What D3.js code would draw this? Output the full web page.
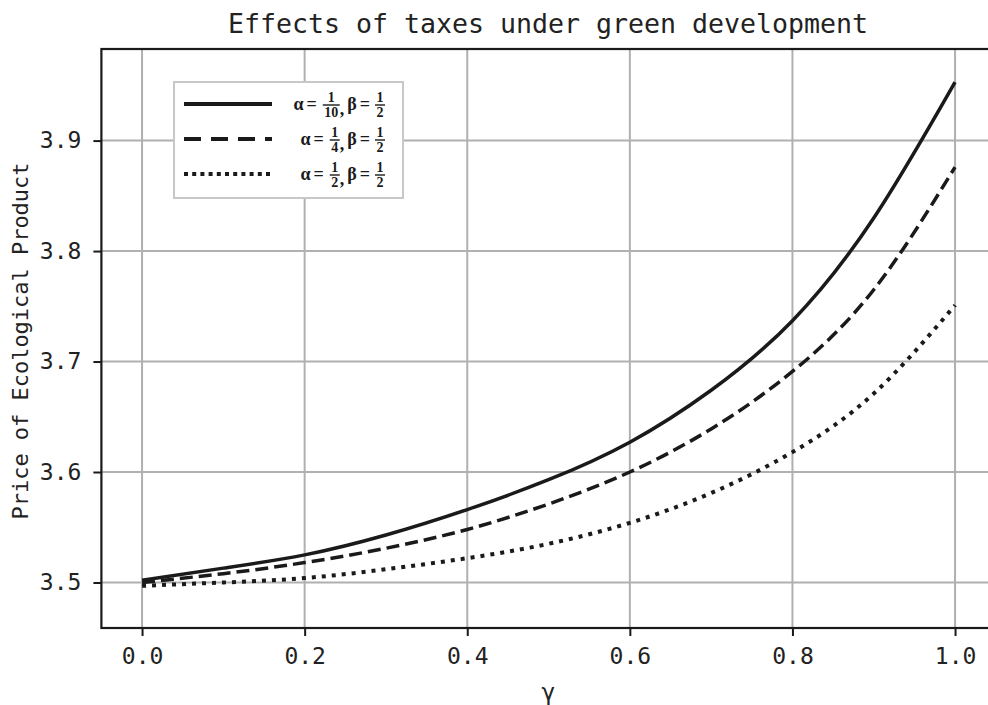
<!DOCTYPE html>
<html>
<head>
<meta charset="utf-8">
<script src="https://cdn.jsdelivr.net/npm/d3@7"></script>
<style>
	body { margin: 0; background: #fff; }
	svg { display: block; }
</style>
</head>
<body>
<div id="chart"></div>
<script>

// values
var gammaValues = [0, 0.1, 0.2, 0.3, 0.4, 0.5, 0.6, 0.7, 0.8, 0.9, 1.0];

var priceAlphaTenth   = [3.502, 3.513, 3.525, 3.543, 3.566, 3.593, 3.627, 3.674, 3.737, 3.830, 3.953];
var priceAlphaQuarter = [3.500, 3.508, 3.518, 3.531, 3.548, 3.571, 3.600, 3.639, 3.691, 3.765, 3.876];
var priceAlphaHalf    = [3.497, 3.500, 3.504, 3.512, 3.522, 3.535, 3.554, 3.581, 3.618, 3.671, 3.751];

var xTicks = [0, 0.2, 0.4, 0.6, 0.8, 1.0];
var yTicks = [3.5, 3.6, 3.7, 3.8, 3.9];

// legend: alpha fraction [num, den], beta fraction [num, den]
var legendAlpha = [["1", "10"], ["1", "4"], ["1", "2"]];
var legendBeta  = [["1", "2"], ["1", "2"], ["1", "2"]];

var titleText  = "Effects of taxes under green development";
var xLabelText = "\u03b3";
var yLabelText = "Price of Ecological Product";

var width  = 988,
	height = 705;

var margin = { left: 101.4, top: 49, bottom: 628 };
var plotW  = 813 * 1.1;

var x = d3.scaleLinear()
	.domain([-0.05, 1.05])
	.range([margin.left, margin.left + plotW]);

var y = d3.scaleLinear()
	.domain([3.4588, 3.9829])
	.range([margin.bottom, margin.top]);

var series = [
	{ values: priceAlphaTenth,   dash: null,    legendDash: null },
	{ values: priceAlphaQuarter, dash: "13,6",  legendDash: "17,10" },
	{ values: priceAlphaHalf,    dash: "4,6",   legendDash: "4,4.2" }
];

var monoFont = "'DejaVu Sans Mono', 'Liberation Mono', monospace";
var ink = "#1a1a1a";

var svg = d3.select("#chart")
	.append("svg")
	.attr("width", width)
	.attr("height", height)
	.style("background", "#fff");

// grid
var grid = svg.append("g").attr("class", "grid");

grid.selectAll("line.gx")
	.data(xTicks)
	.enter().append("line")
	.attr("class", "gx")
	.attr("x1", function(d) { return x(d); })
	.attr("x2", function(d) { return x(d); })
	.attr("y1", margin.top)
	.attr("y2", margin.bottom)
	.attr("stroke", "#b0b0b0")
	.attr("stroke-width", 2);

grid.selectAll("line.gy")
	.data(yTicks)
	.enter().append("line")
	.attr("class", "gy")
	.attr("x1", margin.left)
	.attr("x2", margin.left + plotW)
	.attr("y1", function(d) { return y(d); })
	.attr("y2", function(d) { return y(d); })
	.attr("stroke", "#b0b0b0")
	.attr("stroke-width", 2);

// curves
var line = d3.line()
	.x(function(d, i) { return x(gammaValues[i]); })
	.y(function(d) { return y(d); })
	.curve(d3.curveNatural);

svg.append("g")
	.selectAll("path")
	.data(series)
	.enter().append("path")
	.attr("d", function(s) { return line(s.values); })
	.attr("fill", "none")
	.attr("stroke", ink)
	.attr("stroke-width", function(s, i) { return i == 2 ? 4 : 3.5; })
	.attr("stroke-dasharray", function(s) { return s.dash; });

// axes
var xAxis = svg.append("g")
	.attr("transform", "translate(0," + margin.bottom + ")")
	.call(d3.axisBottom(x).tickValues(xTicks).tickSize(8).tickPadding(12)
		.tickFormat(d3.format(".1f")));

var yAxis = svg.append("g")
	.attr("transform", "translate(" + margin.left + ",0)")
	.call(d3.axisLeft(y).tickValues(yTicks).tickSize(8).tickPadding(12)
		.tickFormat(d3.format(".1f")));

[xAxis, yAxis].forEach(function(a) {
	a.select(".domain").remove();
	a.selectAll(".tick line").attr("stroke", ink).attr("stroke-width", 2);
	a.selectAll(".tick text")
		.attr("fill", "#222")
		.style("font-family", monoFont)
		.style("font-size", "23px");
});

// frame
svg.append("rect")
	.attr("x", margin.left)
	.attr("y", margin.top)
	.attr("width", plotW)
	.attr("height", margin.bottom - margin.top)
	.attr("fill", "none")
	.attr("stroke", ink)
	.attr("stroke-width", 2.2);

// title and labels
svg.append("text")
	.attr("x", 548)
	.attr("y", 33)
	.attr("text-anchor", "middle")
	.attr("textLength", 640)
	.attr("lengthAdjust", "spacingAndGlyphs")
	.style("font-family", monoFont)
	.style("font-size", "27px")
	.attr("fill", "#222")
	.text(titleText);

svg.append("text")
	.attr("x", x(0.5))
	.attr("y", 700)
	.attr("text-anchor", "middle")
	.style("font-family", monoFont)
	.style("font-size", "23px")
	.attr("fill", "#222")
	.text(xLabelText);

svg.append("text")
	.attr("transform", "translate(28,341) rotate(-90)")
	.attr("text-anchor", "middle")
	.attr("textLength", 357)
	.attr("lengthAdjust", "spacingAndGlyphs")
	.style("font-family", monoFont)
	.style("font-size", "21px")
	.attr("fill", "#222")
	.text(yLabelText);

// legend
var legend = svg.append("g").attr("class", "legend");

legend.append("rect")
	.attr("x", 174)
	.attr("y", 82)
	.attr("width", 229)
	.attr("height", 116)
	.attr("fill", "#fff")
	.attr("stroke", "#c8c8c8")
	.attr("stroke-width", 2);

var rowY = [104, 139, 174];
var mathFont = "'Liberation Serif', 'DejaVu Serif', serif";

series.forEach(function(s, i) {

	legend.append("line")
		.attr("x1", 184)
		.attr("x2", 272)
		.attr("y1", rowY[i])
		.attr("y2", rowY[i])
		.attr("stroke", ink)
		.attr("stroke-width", 4)
		.attr("stroke-dasharray", s.legendDash);

	var g = legend.append("g");
	var cx = 0;

	function piece(txt, size, ty) {
		return g.append("text")
			.attr("x", cx)
			.attr("y", ty)
			.style("font-family", mathFont)
			.style("font-size", size + "px")
			.style("font-weight", "bold")
			.attr("fill", ink)
			.text(txt);
	}

	function word(txt, gap) {
		var t = piece(txt, 18, 6);
		cx += t.node().getComputedTextLength() + gap;
	}

	function frac(f, gap) {
		var num = piece(f[0], 14, -2.5).attr("text-anchor", "middle");
		var den = piece(f[1], 14, 13).attr("text-anchor", "middle");
		var w = Math.max(num.node().getComputedTextLength(), den.node().getComputedTextLength()) + 3;
		num.attr("x", cx + w / 2);
		den.attr("x", cx + w / 2);
		g.append("line")
			.attr("x1", cx)
			.attr("x2", cx + w)
			.attr("y1", 1)
			.attr("y2", 1)
			.attr("stroke", ink)
			.attr("stroke-width", 1.4);
		cx += w + gap;
	}

	word("\u03b1", 3);
	word("=", 6);
	frac(legendAlpha[i], 0);
	var c = piece(",", 18, 11);
	cx += c.node().getComputedTextLength() + 3;
	word("\u03b2", 3);
	word("=", 5);
	frac(legendBeta[i], 0);

	// right-align to the legend text edge
	g.attr("transform", "translate(" + (385 - cx) + "," + rowY[i] + ")");
});

</script>
</body>
</html>
